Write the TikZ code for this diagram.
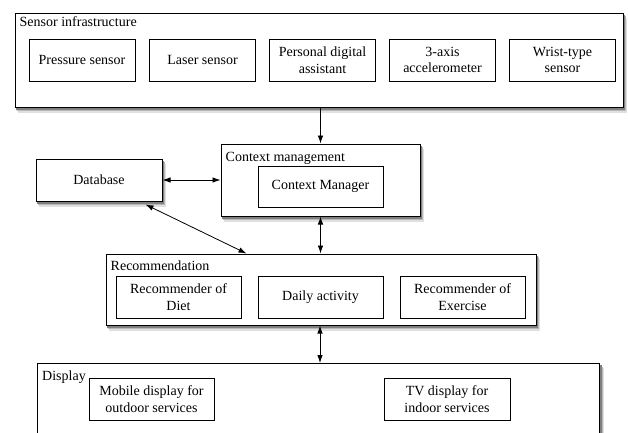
\documentclass[tikz,border=0pt]{standalone}
\usepackage{fontspec}
\setmainfont{Liberation Serif}
\usepackage{tikz}
\usetikzlibrary{calc,arrows.meta}
\pgfdeclarelayer{background}
\pgfsetlayers{background,main}
\newcommand{\boxshadow}[1]{ % node name
    \begin{pgfonlayer}{background}
        \fill[black!12] ([shift={(3.5,5)}]#1.north west) rectangle ([shift={(3.5,5)}]#1.south east);
        \fill[black!28] ([shift={(2.5,3.5)}]#1.north west) rectangle ([shift={(2.5,3.5)}]#1.south east);
        \fill[black!50] ([shift={(1.5,2)}]#1.north west) rectangle ([shift={(1.5,2)}]#1.south east);
    \end{pgfonlayer}
}
\tikzset{
    outerbox/.style={draw, line width=1pt, fill=white, inner sep=0pt},
    innerbox/.style={draw, line width=0.8pt, fill=white, inner sep=0pt, align=center,
        font=\fontsize{14}{16.5}\selectfont},
    boxtitle/.style={anchor=base west, inner sep=0pt, font=\fontsize{14}{16.5}\selectfont},
    conn/.style={line width=0.8pt, {Latex[length=8pt,width=5.5pt]}-{Latex[length=8pt,width=5.5pt]}},
    onearrow/.style={line width=0.8pt, -{Latex[length=8pt,width=5.5pt]}}
}

\begin{document}
\begin{tikzpicture}[x=1pt, y=-1pt]
    \useasboundingbox (0,0) rectangle (628,432);
    \clip (0,0) rectangle (628,432);

    % outer boxes
    \node[outerbox, minimum width=608pt, minimum height=94pt] (sensor) at (319,60) {};
    \node[outerbox, minimum width=126pt, minimum height=42pt] (db) at (99,180) {};
    \node[outerbox, minimum width=199pt, minimum height=72pt] (ctx) at (320.5,180) {};
    \node[outerbox, minimum width=430pt, minimum height=71pt] (rec) at (321,289.5) {};
    \node[outerbox, minimum width=562pt, minimum height=90pt, anchor=north west] (disp) at (37,363) {};
    \boxshadow{sensor}
    \boxshadow{db}
    \boxshadow{ctx}
    \boxshadow{rec}
    \boxshadow{disp}

    \node[boxtitle] (sensortitle) at ([shift={(5,14)}]sensor.north west) {Sensor infrastructure};
    \node[boxtitle] (ctxtitle) at ([shift={(5,18)}]ctx.north west) {Context management};
    \node[boxtitle] (rectitle) at ([shift={(5,17)}]rec.north west) {Recommendation};
    \node[boxtitle] (disptitle) at ([shift={(5,17)}]disp.north west) {Display};

    \node[font=\fontsize{14}{16.5}\selectfont] (dbtext) at (db.center) {Database};

    % sensors
    \node[innerbox, minimum width=106pt, minimum height=42pt] (pressure) at (82,60) {Pressure sensor};
    \node[innerbox, minimum width=106pt, minimum height=42pt] (laser) at (202.5,60) {Laser sensor};
    \node[innerbox, minimum width=106pt, minimum height=42pt] (pda) at (322.5,60) {Personal digital\\assistant};
    \node[innerbox, minimum width=106pt, minimum height=42pt] (accel) at (442.5,60) {3-axis\\accelerometer};
    \node[innerbox, minimum width=106pt, minimum height=42pt] (wrist) at (562.5,60) {Wrist-type\\sensor};

    \node[innerbox, minimum width=125pt, minimum height=41pt] (manager) at (320.5,186.5) {Context Manager};

    \node[innerbox, minimum width=125pt, minimum height=42pt] (diet) at (178.5,297) {Recommender of\\Diet};
    \node[innerbox, minimum width=125pt, minimum height=42pt] (daily) at (320.5,297) {Daily activity};
    \node[innerbox, minimum width=125pt, minimum height=42pt] (exercise) at (462.5,297) {Recommender of\\Exercise};

    \node[innerbox, minimum width=125pt, minimum height=42pt] (mobile) at (151.5,399) {Mobile display for\\outdoor services};
    \node[innerbox, minimum width=126pt, minimum height=42pt] (tv) at (447,399) {TV display for\\indoor services};

    % connectors
    \draw[onearrow] (sensor.south -| ctx.north) -- (ctx.north);
    \draw[conn] (db.east) -- (ctx.west);
    \draw[conn] ([shift={(-17,3)}]db.south east) -- ([xshift=141pt]rec.north west);
    \draw[conn] (ctx.south) -- (ctx.south |- rec.north);
    \draw[conn] ([xshift=-1pt]rec.south) -- ([xshift=-1pt]rec.south |- disp.north);
\end{tikzpicture}
\end{document}
